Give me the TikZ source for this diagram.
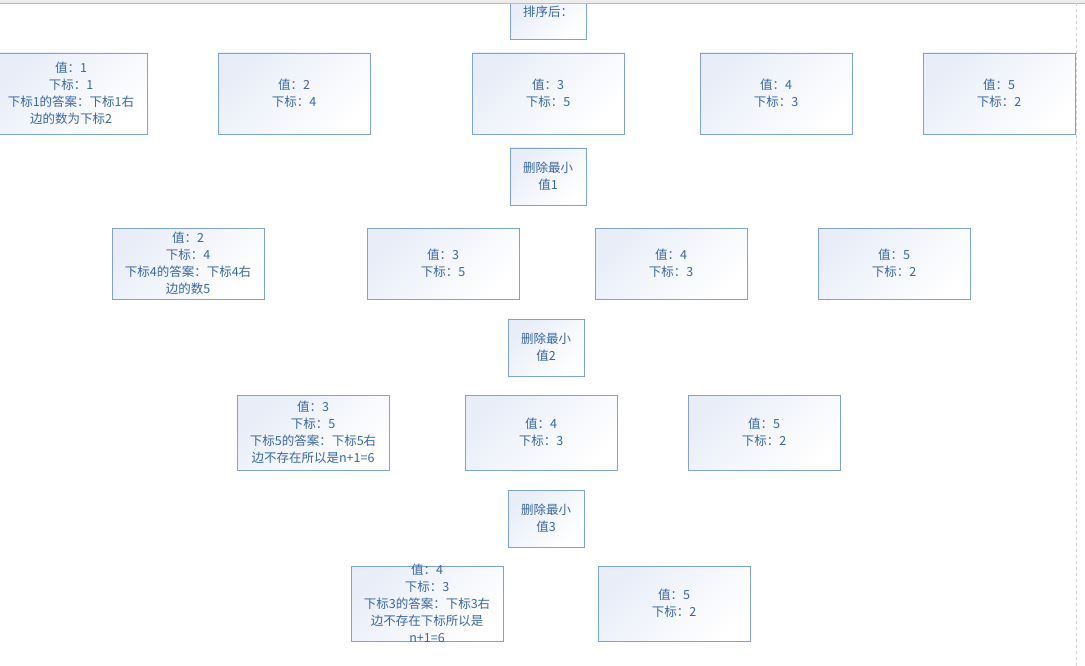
\documentclass[tikz,border=0pt]{standalone}
\usepackage{fontspec}
\newfontfamily\cjk{Noto Sans CJK SC}
\definecolor{cellline}{RGB}{125,163,206}
\definecolor{celltext}{RGB}{56,104,160}
\definecolor{cellfill}{RGB}{232,237,248}

\tikzset{
  cell/.style={draw=cellline,line width=0.9pt,top color=cellfill,bottom color=white,shading angle=45,
    align=center,text=celltext,font=\cjk\fontsize{12.5}{17}\selectfont,
    minimum width=152,inner sep=2pt},
  delbox/.style={cell,minimum width=76,minimum height=57}
}

\begin{document}
\begin{tikzpicture}[x=1pt,y=-1pt]
      \useasboundingbox (0,0) rectangle (1085,666);
      \clip (0,0) rectangle (1085,666);

      % sorted
      \node [delbox,minimum height=39] (sorted) at (548,19.5) {排序后：\\~};

      \node [cell,minimum height=81] (a1) at (71,93.5) {值：1\\下标：1\\下标1的答案：下标1右\\边的数为下标2};
      \node [cell,minimum height=81] (a2) at (294,93.5) {值：2\\下标：4};
      \node [cell,minimum height=81] (a3) at (548,93.5) {值：3\\下标：5};
      \node [cell,minimum height=81] (a4) at (776,93.5) {值：4\\下标：3};
      \node [cell,minimum height=81] (a5) at (999,93.5) {值：5\\下标：2};

      \node [delbox] (del1) at (548,176.5) {删除最小\\值1};

      \node [cell,minimum height=71] (b2) at (188,263.5) {值：2\\下标：4\\下标4的答案：下标4右\\边的数5};
      \node [cell,minimum height=71] (b3) at (443,263.5) {值：3\\下标：5};
      \node [cell,minimum height=71] (b4) at (671,263.5) {值：4\\下标：3};
      \node [cell,minimum height=71] (b5) at (894,263.5) {值：5\\下标：2};

      \node [delbox] (del2) at (546,347.5) {删除最小\\值2};

      \node [cell,minimum height=75] (c3) at (313,432.5) {值：3\\下标：5\\下标5的答案：下标5右\\边不存在所以是n+1=6};
      \node [cell,minimum height=75] (c4) at (541,432.5) {值：4\\下标：3};
      \node [cell,minimum height=75] (c5) at (764,432.5) {值：5\\下标：2};

      \node [delbox] (del3) at (546,518.5) {删除最小\\值3};

      \node [cell,minimum height=75] (d4) at (427,603.5) {};
      \node [align=center,text=celltext,font=\cjk\fontsize{12.5}{17}\selectfont] (d4text) at (d4.center)
        {值：4\\下标：3\\下标3的答案：下标3右\\边不存在下标所以是\\n+1=6};
      \node [cell,minimum height=75] (d5) at (674,603.5) {值：5\\下标：2};

      % page edge
      \fill [gray!15] (0,0) rectangle (1085,3);
      \draw [gray!55,line width=0.6pt] (0,3) -- (1085,3);
      \draw [gray!35,dashed,line width=0.6pt] (1076,3) -- (1076,666);
\end{tikzpicture}
\end{document}
